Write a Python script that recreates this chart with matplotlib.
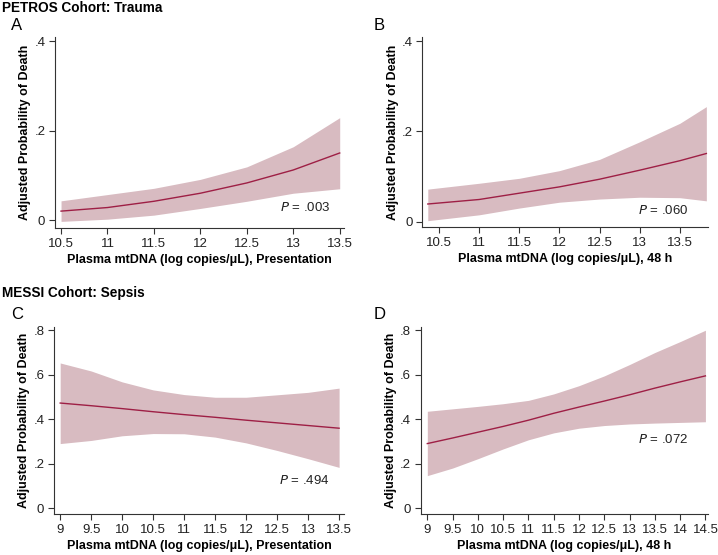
import matplotlib
matplotlib.use('Agg')
from matplotlib import pyplot as plt
import numpy as np

plt.rcParams['font.family'] = ['Liberation Sans', 'DejaVu Sans']

# Panel A: PETROS presentation
a_x = [10.5, 11, 11.5, 12, 12.5, 13, 13.5]
a_mean = [0.020, 0.028, 0.042, 0.060, 0.083, 0.112, 0.150]
a_hi = [0.043, 0.057, 0.071, 0.091, 0.119, 0.164, 0.229]
a_lo = [-0.003, 0.002, 0.011, 0.026, 0.042, 0.060, 0.070]

# Panel B: PETROS 48 h
b_x = [10.36, 11, 11.5, 12, 12.5, 13, 13.5, 13.83]
b_mean = [0.039, 0.049, 0.063, 0.077, 0.094, 0.114, 0.135, 0.151]
b_hi = [0.072, 0.085, 0.096, 0.113, 0.138, 0.177, 0.218, 0.255]
b_lo = [0.002, 0.015, 0.030, 0.043, 0.050, 0.054, 0.053, 0.046]

# Panel C: MESSI presentation
c_x = [9, 9.5, 10, 10.5, 11, 11.5, 12, 12.5, 13, 13.5]
c_mean = [0.473, 0.461, 0.448, 0.434, 0.421, 0.409, 0.396, 0.384, 0.372, 0.360]
c_hi = [0.653, 0.617, 0.568, 0.532, 0.511, 0.499, 0.499, 0.510, 0.521, 0.540]
c_lo = [0.291, 0.305, 0.326, 0.336, 0.335, 0.320, 0.294, 0.260, 0.223, 0.184]

# Panel D: MESSI 48 h
d_x = [9, 9.5, 10, 10.5, 11, 11.5, 12, 12.5, 13, 13.5, 14, 14.5]
d_mean = [0.291, 0.316, 0.342, 0.368, 0.396, 0.427, 0.455, 0.482, 0.510, 0.540, 0.568, 0.595]
d_hi = [0.436, 0.447, 0.458, 0.470, 0.485, 0.514, 0.551, 0.595, 0.646, 0.700, 0.749, 0.800]
d_lo = [0.147, 0.181, 0.223, 0.267, 0.308, 0.339, 0.360, 0.372, 0.379, 0.383, 0.386, 0.389]

FILL = '#d8bbc1'
LINE = '#9e1f45'
SPINE = '#333333'


def draw_panel(ax, x, mean, lo, hi, xlim, xticks, ylim, yticks, yticklabels, xlabel, ptext, ppos):
    ax.fill_between(x, lo, hi, color=FILL, linewidth=0)
    ax.plot(x, mean, color=LINE, linewidth=1.0)
    ax.set_xlim(*xlim)
    ax.set_ylim(*ylim)
    ax.set_xticks(xticks)
    ax.set_xticklabels([('%g' % t) for t in xticks])
    ax.set_yticks(yticks)
    ax.set_yticklabels(yticklabels)
    for s in ['top', 'right']:
        ax.spines[s].set_visible(False)
    for s in ['left', 'bottom']:
        ax.spines[s].set_color(SPINE)
        ax.spines[s].set_linewidth(0.8)
    ax.tick_params(direction='out', length=4, width=0.8, color=SPINE, labelsize=9.5,
                   labelcolor='#222222', pad=3)
    ax.set_xlabel(xlabel, fontsize=9, fontweight='bold', labelpad=3)
    ax.set_ylabel('Adjusted Probability of Death', fontsize=9, fontweight='bold', labelpad=2)
    ax.text(ppos[0], ppos[1], '$\\it{P}$ = ' + ptext, transform=ax.transAxes,
            ha='right', va='center', fontsize=9.5, color='#222222')


fig = plt.figure(figsize=(7.18, 5.55), dpi=100)

ax_a = fig.add_axes([0.0766, 0.589, 0.403, 0.344])
ax_b = fig.add_axes([0.588, 0.591, 0.398, 0.342])
ax_c = fig.add_axes([0.0752, 0.074, 0.404, 0.337])
ax_d = fig.add_axes([0.586, 0.074, 0.400, 0.337])

top_ticks = [0, 0.2, 0.4]
top_labels = ['0', '.2', '.4']
bot_ticks = [0, 0.2, 0.4, 0.6, 0.8]
bot_labels = ['0', '.2', '.4', '.6', '.8']

draw_panel(ax_a, a_x, a_mean, a_lo, a_hi, (10.435, 13.55), np.arange(10.5, 13.51, 0.5),
           (-0.018, 0.409), top_ticks, top_labels,
           'Plasma mtDNA (log copies/\u03bcL), Presentation', '.003', (0.95, 0.11))
draw_panel(ax_b, b_x, b_mean, b_lo, b_hi, (10.29, 13.85), np.arange(10.5, 13.51, 0.5),
           (-0.012, 0.409), top_ticks, top_labels,
           'Plasma mtDNA (log copies/\u03bcL), 48 h', '.060', (0.93, 0.085))
draw_panel(ax_c, c_x, c_mean, c_lo, c_hi, (8.9, 13.58), np.arange(9, 13.51, 0.5),
           (-0.025, 0.815), bot_ticks, bot_labels,
           'Plasma mtDNA (log copies/\u03bcL), Presentation', '.494', (0.95, 0.18))
draw_panel(ax_d, d_x, d_mean, d_lo, d_hi, (8.87, 14.55), np.arange(9, 14.51, 0.5),
           (-0.025, 0.815), bot_ticks, bot_labels,
           'Plasma mtDNA (log copies/\u03bcL), 48 h', '.072', (0.93, 0.396))

fig.text(0.003, 0.985, 'PETROS Cohort: Trauma', fontsize=9.8, fontweight='bold', va='center')
fig.text(0.003, 0.472, 'MESSI Cohort: Sepsis', fontsize=9.8, fontweight='bold', va='center')
fig.text(0.015, 0.954, 'A', fontsize=12, va='center')
fig.text(0.520, 0.954, 'B', fontsize=12, va='center')
fig.text(0.015, 0.434, 'C', fontsize=12, va='center')
fig.text(0.520, 0.434, 'D', fontsize=12, va='center')

fig.savefig('out.png', dpi=100)
